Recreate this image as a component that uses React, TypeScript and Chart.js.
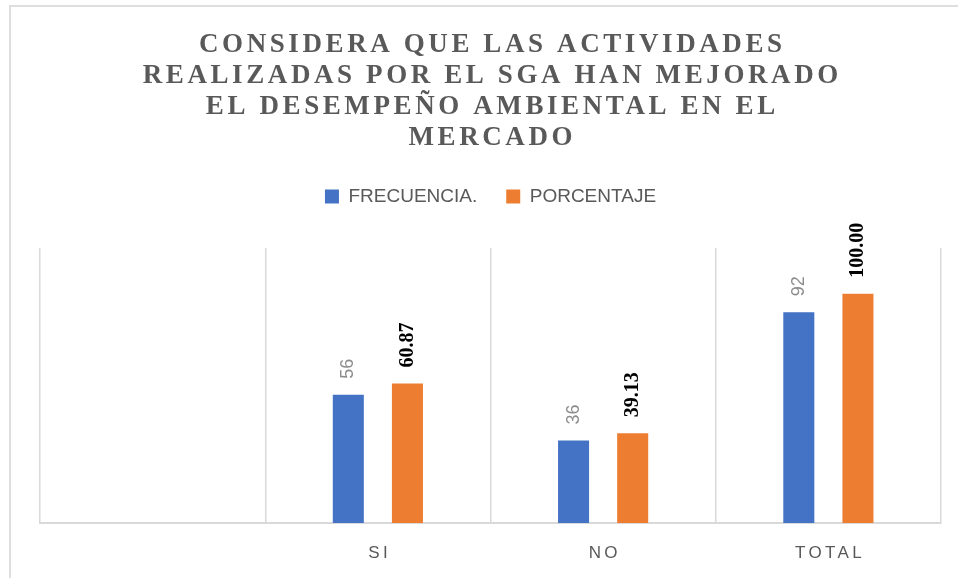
import React, { useEffect, useRef } from "react";
import { Chart, registerables } from "chart.js";

Chart.register(...registerables);

const TITLE_LINES = [
  "CONSIDERA QUE LAS ACTIVIDADES",
  "REALIZADAS POR EL SGA HAN MEJORADO",
  "EL DESEMPEÑO AMBIENTAL EN EL",
  "MERCADO",
];
const CATEGORIES = ["", "SI", "NO", "TOTAL"];
const SERIES_NAMES = ["FRECUENCIA.", "PORCENTAJE"];
const FRECUENCIA: (number | null)[] = [null, 56, 36, 92];
const PORCENTAJE: (number | null)[] = [null, 60.87, 39.13, 100.0];
const Y_MIN = 0;
const Y_MAX = 120;

const BLUE = "#4472C4";
const ORANGE = "#ED7D31";
const GRID = "#d9d9d9";
const TEXT_GREY = "#595959";
const SANS = "'Liberation Sans', Arial, sans-serif";
const SERIF = "'Liberation Serif', 'Times New Roman', serif";

const customDraw = {
  id: "customDraw",
  afterDraw(chart: any) {
    const ctx = chart.ctx as CanvasRenderingContext2D;
    const area = chart.chartArea;
    const cx = (area.left + area.right) / 2;

    // Title with letter spacing
    ctx.save();
    ctx.fillStyle = TEXT_GREY;
    ctx.font = `bold 27px ${SERIF}`;
    ctx.textAlign = "center";
    ctx.textBaseline = "alphabetic";
    (ctx as any).letterSpacing = "3.6px";
    TITLE_LINES.forEach((line, i) => {
      ctx.fillText(line, cx + 1.8, 52 + i * 31);
    });
    ctx.restore();

    // Category labels with letter spacing
    const xs = chart.scales.x;
    ctx.save();
    ctx.fillStyle = TEXT_GREY;
    ctx.font = `17px ${SANS}`;
    ctx.textAlign = "center";
    ctx.textBaseline = "middle";
    (ctx as any).letterSpacing = "3.4px";
    CATEGORIES.forEach((c, i) => {
      if (!c) return;
      ctx.fillText(c, xs.getPixelForValue(i) + 1.7, area.bottom + 30);
    });
    ctx.restore();

    // Data labels (rotated)
    chart.data.datasets.forEach((ds: any, di: number) => {
      const meta = chart.getDatasetMeta(di);
      meta.data.forEach((bar: any, i: number) => {
        const v = ds.data[i];
        if (v == null) return;
        ctx.save();
        ctx.translate(bar.x, bar.y - 16);
        ctx.rotate(-Math.PI / 2);
        ctx.textAlign = "left";
        ctx.textBaseline = "middle";
        if (di === 0) {
          ctx.fillStyle = "#8c8c8c";
          ctx.font = `18px ${SANS}`;
          ctx.fillText(String(v), 0, 0);
        } else {
          ctx.fillStyle = "#000000";
          ctx.font = `bold 20px ${SERIF}`;
          ctx.fillText(Number(v).toFixed(2), 0, 0);
        }
        ctx.restore();
      });
    });
  },
};

export default function App() {
  const canvasRef = useRef<HTMLCanvasElement | null>(null);

  useEffect(() => {
    document.body.style.margin = "0";
    document.body.style.background = "#ffffff";
    const canvas = canvasRef.current;
    if (!canvas) return;
    const chart = new Chart(canvas, {
      type: "bar",
      data: {
        labels: CATEGORIES,
        datasets: [
          {
            label: SERIES_NAMES[0],
            data: FRECUENCIA,
            backgroundColor: BLUE,
            categoryPercentage: 0.525,
            barPercentage: 0.525,
          },
          {
            label: SERIES_NAMES[1],
            data: PORCENTAJE,
            backgroundColor: ORANGE,
            categoryPercentage: 0.525,
            barPercentage: 0.525,
          },
        ],
      },
      options: {
        responsive: false,
        animation: false,
        events: [],
        layout: { padding: { top: 158, left: 40, right: 17, bottom: 0 } },
        plugins: {
          title: { display: false },
          tooltip: { enabled: false },
          legend: {
            display: true,
            position: "top",
            labels: {
              boxWidth: 14,
              boxHeight: 14,
              padding: 29,
              color: TEXT_GREY,
              font: { family: SANS, size: 19 },
            },
          },
        },
        scales: {
          x: {
            grid: {
              display: true,
              offset: true,
              color: GRID,
              lineWidth: 1.5,
              drawTicks: false,
            },
            border: { display: true, color: GRID, width: 2 },
            ticks: { display: false },
            afterFit: (scale: any) => {
              scale.height = 55;
            },
          },
          xSpacer: {
            type: "category",
            position: "top",
            grid: { display: false, drawTicks: false },
            border: { display: false },
            ticks: { display: false },
            afterFit: (scale: any) => {
              scale.height = 32;
            },
          },
          y: {
            display: false,
            min: Y_MIN,
            max: Y_MAX,
          },
        },
      },
      plugins: [customDraw],
    });
    return () => chart.destroy();
  }, []);

  return (
    <div style={{ position: "fixed", left: 0, top: 0, width: 958, height: 578, background: "#fff" }}>
      <div
        style={{
          position: "absolute",
          left: 9,
          top: 5,
          right: 0,
          bottom: 0,
          borderLeft: "2px solid #dedede",
          borderTop: "2px solid #dedede",
          pointerEvents: "none",
        }}
      />
      <canvas ref={canvasRef} width={958} height={578} style={{ position: "absolute", left: 0, top: 0 }} />
    </div>
  );
}
